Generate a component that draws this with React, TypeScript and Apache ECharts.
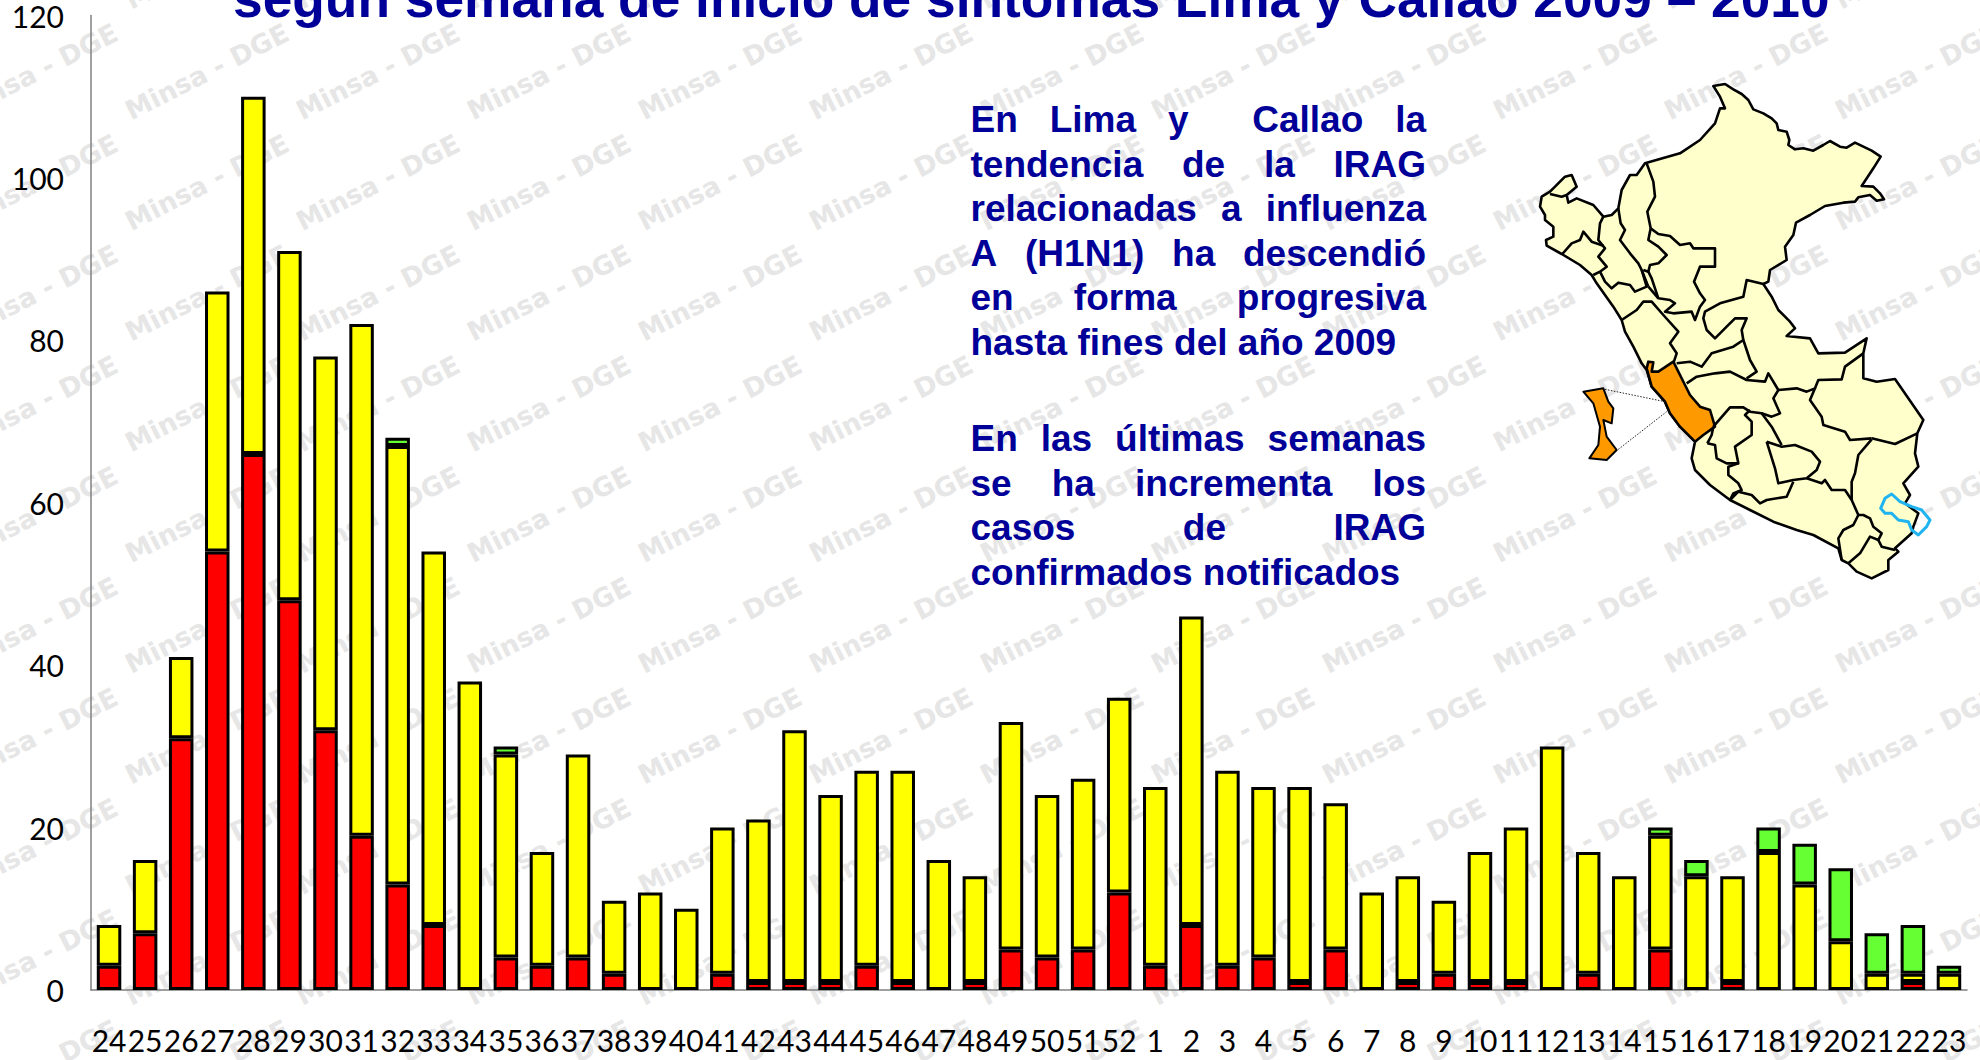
import React, { useEffect, useRef } from "react";
import * as echarts from "echarts";

const weeks = ["24","25","26","27","28","29","30","31","32","33","34","35","36","37","38","39","40","41","42","43","44","45","46","47","48","49","50","51","52","1","2","3","4","5","6","7","8","9","10","11","12","13","14","15","16","17","18","19","20","21","22","23"];
const red = [3,7,31,54,66,48,32,19,13,8,0,4,3,4,2,0,0,2,1,1,1,3,1,0,1,5,4,5,12,3,8,3,4,1,5,0,1,2,1,1,0,2,0,5,0,1,0,0,0,0,1,0];
const yellow = [5,9,10,32,44,43,46,63,54,46,38,25,14,25,9,12,10,18,20,31,23,24,26,16,13,28,20,21,24,22,38,24,21,24,18,12,13,9,16,19,30,15,14,14,14,13,17,13,6,2,1,2];
const green = [0,0,0,0,0,0,0,0,1,0,0,1,0,0,0,0,0,0,0,0,0,0,0,0,0,0,0,0,0,0,0,0,0,0,0,0,0,0,0,0,0,0,0,1,2,0,3,5,9,5,6,1];
const yTicks = { max: 120, interval: 20 };

const titleText = "según semana de inicio de síntomas Lima y Callao 2009 – 2010";
const para = [
  { t: "En Lima y  Callao la", j: true, y: 133 },
  { t: "tendencia de la IRAG", j: true, y: 177.6 },
  { t: "relacionadas a influenza", j: true, y: 222.2 },
  { t: "A (H1N1) ha descendió", j: true, y: 266.8 },
  { t: "en forma progresiva", j: true, y: 311.4 },
  { t: "hasta fines del año 2009", j: false, y: 356 },
  { t: "En las últimas semanas", j: true, y: 452 },
  { t: "se ha incrementa los", j: true, y: 496.6 },
  { t: "casos de IRAG", j: true, y: 541.2 },
  { t: "confirmados notificados", j: false, y: 586 },
];

type Pts = number[][];
const peruOutline: Pts = [[550,18],[585,12],[610,28],[635,42],[655,60],[670,88],[700,100],[725,115],[740,130],[745,150],[770,155],[778,180],[775,195],[795,208],[820,205],[850,212],[880,195],[900,183],[930,200],[950,203],[975,188],[1000,200],[1025,212],[1052,230],[1030,265],[995,318],[1030,320],[1050,340],[1062,358],[1040,362],[1020,345],[985,352],[975,365],[940,368],[885,378],[840,405],[798,428],[790,465],[765,500],[770,540],[720,570],[715,605],[700,612],[725,650],[745,690],[780,725],[795,745],[770,768],[840,775],[865,820],[945,818],[1010,775],[1000,820],[1000,895],[1040,905],[1095,897],[1180,1020],[1162,1060],[1155,1120],[1165,1160],[1120,1210],[1140,1245],[1125,1270],[1165,1300],[1150,1340],[1145,1360],[1095,1405],[1105,1415],[1075,1440],[1075,1470],[1025,1495],[980,1475],[955,1450],[935,1440],[925,1405],[850,1365],[800,1350],[730,1325],[660,1290],[600,1260],[540,1215],[495,1170],[485,1135],[495,1085],[450,1040],[420,1000],[405,965],[365,920],[350,870],[335,850],[310,800],[285,755],[275,720],[250,680],[200,610],[185,585],[150,555],[95,522],[50,497],[48,480],[70,470],[70,440],[45,420],[45,405],[30,380],[35,350],[60,335],[105,290],[125,285],[140,320],[110,345],[115,368],[140,355],[190,375],[220,410],[245,405],[265,385],[275,330],[300,285],[320,285],[345,250],[450,220],[510,180],[555,130],[570,85],[585,85],[570,50]];
const peruBorders: Pts[] = [
  [[60,342],[95,350],[110,345]],
  [[97,522],[125,490],[150,480],[160,455],[185,485],[220,497]],
  [[220,410],[210,430],[205,480],[225,505],[205,530],[230,560],[210,575],[190,585]],
  [[210,575],[225,605],[245,625],[265,608],[300,615],[315,635],[350,620],[335,570]],
  [[265,385],[272,430],[285,450],[270,480],[300,520],[325,550],[335,570],[355,620]],
  [[350,250],[370,305],[375,350],[352,395],[362,445]],
  [[362,445],[355,480],[385,500],[410,525],[385,550],[360,555],[355,575],[340,570]],
  [[362,445],[385,462],[420,468],[450,495],[480,490],[490,505],[555,505],[555,560],[510,560],[492,605],[510,640],[525,660],[510,680],[495,720],[485,695],[430,700],[405,695],[435,670],[420,660],[385,655],[365,595],[355,575]],
  [[355,620],[385,655]],
  [[275,720],[320,690],[340,665],[365,665],[400,705],[445,755],[420,790],[440,820],[430,850]],
  [[700,612],[650,600],[640,650],[570,670],[525,695],[520,715],[530,750],[555,775],[590,740],[615,715],[650,715],[635,750],[640,780],[660,840],[680,875],[650,895]],
  [[440,850],[480,845],[515,860],[545,820],[610,800],[640,780]],
  [[470,910],[500,890],[555,880],[600,875],[650,900],[705,905],[715,880],[745,930],[730,955],[750,1000],[725,1010],[695,1000],[660,995],[640,982],[600,982],[550,1040]],
  [[745,930],[800,925],[830,935],[855,925],[840,960],[875,1010],[880,1035],[945,1055],[960,1080],[1025,1075]],
  [[855,925],[865,900],[935,898],[945,860],[1000,820]],
  [[1025,1075],[1095,1092],[1162,1060]],
  [[695,1000],[725,1040],[755,1095]],
  [[1025,1078],[985,1125],[975,1180],[965,1205],[965,1260]],
  [[710,1085],[755,1100],[795,1095],[845,1115],[870,1145],[860,1170],[830,1195],[790,1200],[745,1210],[735,1165],[710,1085]],
  [[830,1195],[875,1210],[885,1200],[905,1230],[945,1230],[965,1260],[985,1305],[970,1335],[940,1350],[925,1375],[935,1440]],
  [[600,1260],[625,1235],[665,1245],[690,1270],[710,1260],[770,1250],[790,1205]],
  [[532,1090],[555,1095],[560,1135],[590,1150],[625,1150],[615,1100],[665,1065],[665,1025],[645,1005],[660,990]],
  [[550,1040],[545,1065],[532,1090]],
  [[625,1150],[595,1160],[595,1185],[625,1210],[635,1230],[610,1240],[600,1260]],
  [[985,1305],[1000,1305],[1020,1315],[1030,1340],[1055,1360],[1045,1380],[1020,1370],[990,1420],[955,1450]],
  [[1045,1380],[1055,1400],[1095,1410]],
];
const limaRegion: Pts = [[350,865],[355,845],[370,847],[365,875],[385,875],[430,845],[465,915],[480,945],[510,980],[540,990],[555,1040],[520,1065],[495,1085],[450,1040],[420,1000],[405,965],[365,920]];
const callaoInset: Pts = [[160,935],[220,925],[235,965],[250,985],[245,1030],[220,1020],[230,1070],[260,1110],[230,1140],[178,1135],[205,1095],[210,1040],[190,970]];
const lakeOutline: Pts = [[1052,1285],[1065,1255],[1085,1242],[1110,1265],[1145,1280],[1175,1290],[1200,1320],[1190,1340],[1165,1365],[1145,1350],[1135,1325],[1105,1320],[1085,1300],[1065,1300]];
const insetLines: Pts[] = [[[225,928],[405,965]],[[265,1108],[410,995]]];

const toFull = (pts: Pts) => pts.map(([x, y]) => [1530 + x / 3, 80 + y / 3]);
const FONT = '"Liberation Sans", Arial, sans-serif';
const AXIS_FONT = "Lato, sans-serif";
const BLUE = "#000099";

function watermark() {
  const out: any[] = [];
  const pitchX = 171, pitchY = 110.7;
  for (let m = -1; m <= 9; m++) {
    const y0 = 124 + m * pitchY;
    for (let k = -4; k <= 7; k++) {
      out.push({
        type: "text", x: 646 + k * pitchX, y: y0, rotation: 0.47,
        style: { text: "Minsa - DGE", font: 'bold 26.5px "DejaVu Sans"', fill: "#E6E6E6", verticalAlign: "bottom" },
        silent: true,
      });
    }
    out.push({ type: "rect", shape: { x: 0, y: y0 - 4, width: 1980, height: 14 }, style: { fill: "#fff" }, silent: true });
  }
  return out;
}

function paragraphs() {
  const ctx = document.createElement("canvas").getContext("2d")!;
  const font = `bold 37px ${FONT}`;
  ctx.font = font;
  const left = 970.5, right = 1426;
  const out: any[] = [];
  para.forEach((l) => {
    const words = l.t.split(" ");
    const total = words.reduce((s, w) => s + ctx.measureText(w).width, 0);
    const gap = l.j ? (right - left - total) / (words.length - 1) : ctx.measureText(" ").width;
    let x = left;
    words.forEach((w) => {
      if (w) out.push({ type: "text", x, y: l.y + 5, style: { text: w, font, fill: BLUE, verticalAlign: "bottom" }, silent: true });
      x += ctx.measureText(w).width + gap;
    });
  });
  return out;
}

function peruMap() {
  const lw = 2.6;
  const out: any[] = [];
  out.push({ type: "polygon", shape: { points: toFull(peruOutline) }, style: { fill: "#FFFFCC", stroke: "#000", lineWidth: lw, lineJoin: "round" }, silent: true });
  out.push({ type: "polygon", shape: { points: toFull(limaRegion) }, style: { fill: "#FF9900", stroke: "#000", lineWidth: lw, lineJoin: "round" }, silent: true });
  out.push({ type: "polygon", shape: { points: toFull(callaoInset) }, style: { fill: "#FF9900", stroke: "#000", lineWidth: 2, lineJoin: "round" }, silent: true });
  peruBorders.forEach((b) => out.push({ type: "polyline", shape: { points: toFull(b) }, style: { fill: "none", stroke: "#000", lineWidth: lw, lineJoin: "round" }, silent: true }));
  insetLines.forEach((b) => out.push({ type: "polyline", shape: { points: toFull(b) }, style: { fill: "none", stroke: "#222", lineWidth: 1, lineDash: [1.5, 1.5] }, silent: true }));
  out.push({ type: "polygon", shape: { points: toFull(lakeOutline) }, style: { fill: "rgba(0,0,0,0)", stroke: "#1FB4F0", lineWidth: 3, lineJoin: "round" }, silent: true });
  return out;
}

export default function App() {
  const ref = useRef<HTMLDivElement>(null);
  useEffect(() => {
    document.body.style.margin = "0";
    document.body.style.overflow = "hidden";
    const chart = echarts.init(ref.current!, null, { renderer: "svg" });
    const barBase = { type: "bar", stack: "casos", barWidth: 24.5, barGap: "0%" };
    const itemStyle = (color: string) => ({ color, borderColor: "#000", borderWidth: 3 });
    const nz = (a: number[]) => a.map((v) => (v === 0 ? null : v));
    chart.setOption({
      animation: false,
      backgroundColor: "#fff",
      title: { text: titleText, left: 228, top: -33, textStyle: { fontFamily: FONT, fontWeight: "bold", fontSize: 53.3, color: BLUE } },
      grid: { left: 91, right: 13, top: 15.5, bottom: 70 },
      xAxis: {
        type: "category", data: weeks,
        axisTick: { show: false },
        axisLine: { show: true, lineStyle: { color: "#808080", width: 1.5 } },
        axisLabel: { interval: 0, hideOverlap: false, fontFamily: AXIS_FONT, fontSize: 30, color: "#000", margin: 35 },
      },
      yAxis: {
        type: "value", min: 0, max: yTicks.max, interval: yTicks.interval,
        splitLine: { show: false },
        axisTick: { show: false },
        axisLine: { show: true, lineStyle: { color: "#808080", width: 1.5 } },
        axisLabel: { fontFamily: AXIS_FONT, fontSize: 30, color: "#000", margin: 27, padding: [12, 0, 0, 0] },
      },
      series: [
        { ...barBase, name: "Confirmados", data: nz(red), itemStyle: itemStyle("#FF0000") },
        { ...barBase, name: "Probables", data: nz(yellow), itemStyle: itemStyle("#FFFF00") },
        { ...barBase, name: "Otros", data: nz(green), itemStyle: itemStyle("#66FF33") },
      ],
      graphic: { elements: [...watermark(), ...peruMap(), ...paragraphs()] },
    });
    return () => chart.dispose();
  }, []);
  return <div ref={ref} style={{ width: 1980, height: 1060, position: "absolute", left: 0, top: 0 }} />;
}
